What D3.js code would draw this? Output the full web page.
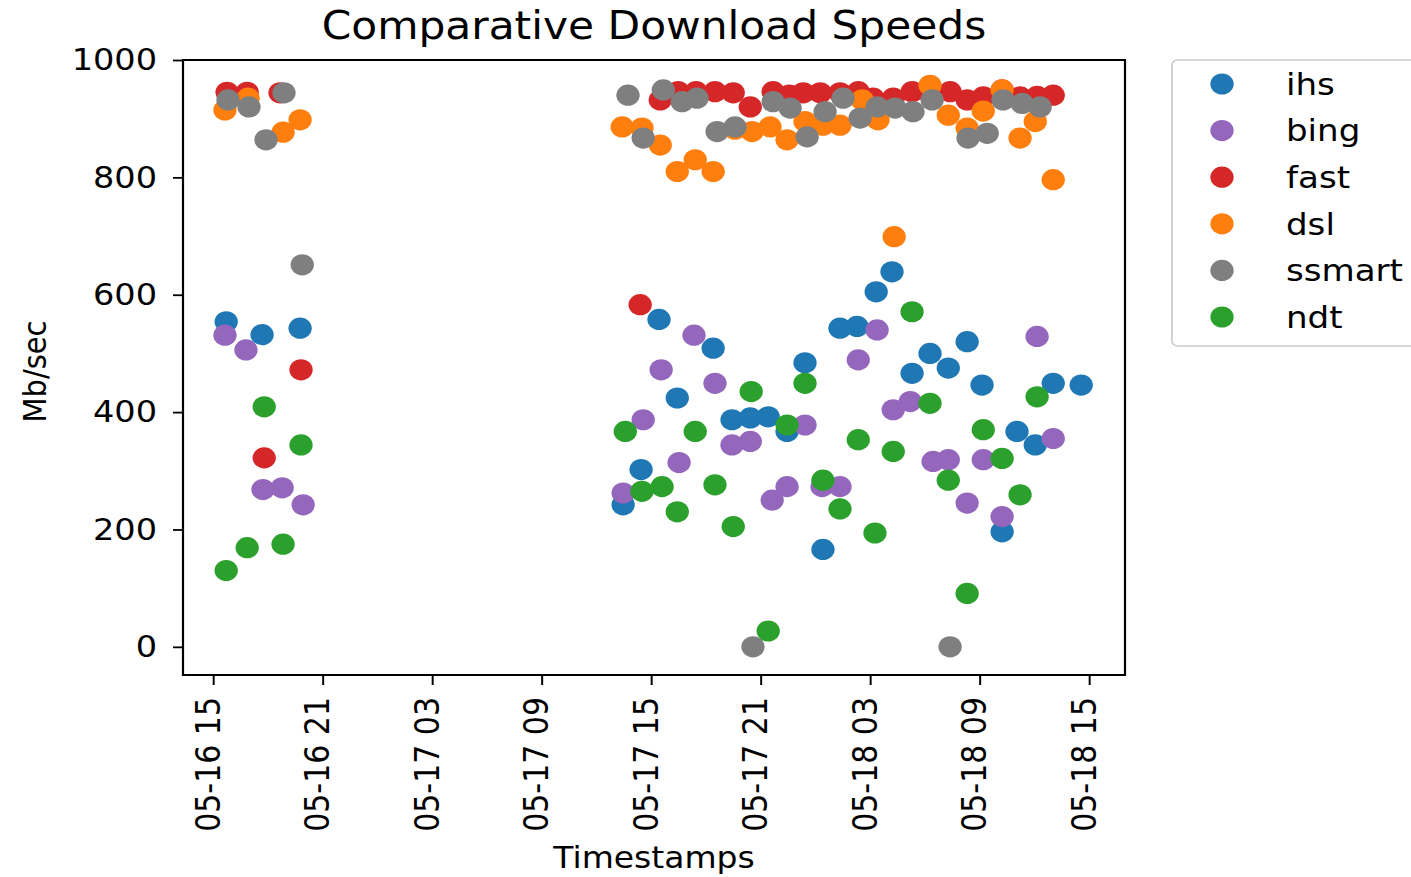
<!DOCTYPE html>
<html>
<head>
<meta charset="utf-8">
<script src="https://cdnjs.cloudflare.com/ajax/libs/d3/7.8.5/d3.min.js"></script>
<style>
  body { margin: 0; background: #fff; }
  svg { display: block; }
  text { font-family: "DejaVu Sans", sans-serif; fill: #000; }
</style>
</head>
<body>
<svg id="chart"></svg>
<script>
// series names + matplotlib tab10 colours
const seriesNames = ["ihs", "bing", "fast", "dsl", "ssmart", "ndt"];
const seriesColors = ["#1f77b4", "#9467bd", "#d62728", "#ff7f0e", "#7f7f7f", "#2ca02c"];

const xTickLabels = ["05-16 15", "05-16 21", "05-17 03", "05-17 09", "05-17 15",
                     "05-17 21", "05-18 03", "05-18 09", "05-18 15"];
const yTickValues = [0, 200, 400, 600, 800, 1000];

// [timestamp, Mb/sec]
const ihs = [
  ["05-16 15:43", 554], ["05-16 17:41", 532], ["05-16 19:46", 543],
  ["05-17 13:28", 242], ["05-17 14:27", 302], ["05-17 15:26", 558], ["05-17 16:26", 424],
  ["05-17 18:24", 509], ["05-17 19:26", 387], ["05-17 20:26", 390], ["05-17 21:25", 392],
  ["05-17 22:27", 367], ["05-17 23:26", 484], ["05-18 00:25", 166], ["05-18 01:21", 543],
  ["05-18 02:17", 546], ["05-18 03:20", 605], ["05-18 04:12", 639], ["05-18 05:18", 466],
  ["05-18 06:17", 500], ["05-18 07:17", 475], ["05-18 08:19", 520], ["05-18 09:08", 446],
  ["05-18 10:14", 196], ["05-18 11:03", 367], ["05-18 12:03", 344], ["05-18 13:02", 449],
  ["05-18 14:34", 446]
];
const bing = [
  ["05-16 15:39", 531], ["05-16 16:48", 506], ["05-16 17:44", 268], ["05-16 18:47", 271],
  ["05-16 19:56", 242],
  ["05-17 13:28", 262], ["05-17 14:34", 387], ["05-17 15:33", 472], ["05-17 16:32", 314],
  ["05-17 17:21", 531], ["05-17 18:30", 449], ["05-17 19:26", 344], ["05-17 20:26", 350],
  ["05-17 21:38", 250], ["05-17 22:27", 273], ["05-17 23:26", 378], ["05-18 00:22", 273],
  ["05-18 01:21", 273], ["05-18 02:21", 489], ["05-18 03:23", 540], ["05-18 04:16", 404],
  ["05-18 05:12", 418], ["05-18 06:27", 316], ["05-18 07:17", 319], ["05-18 08:19", 245],
  ["05-18 09:12", 319], ["05-18 10:14", 222], ["05-18 12:09", 529], ["05-18 13:02", 355]
];
const fast = [
  ["05-16 15:46", 945], ["05-16 16:52", 945], ["05-16 17:48", 322], ["05-16 18:40", 944],
  ["05-16 19:49", 472],
  ["05-17 14:24", 583], ["05-17 15:30", 932], ["05-17 16:29", 946], ["05-17 17:28", 946],
  ["05-17 18:30", 946], ["05-17 19:30", 944], ["05-17 20:26", 920], ["05-17 21:41", 946],
  ["05-17 22:34", 940], ["05-17 23:20", 944], ["05-18 00:16", 944], ["05-18 01:21", 944],
  ["05-18 02:21", 946], ["05-18 03:10", 935], ["05-18 04:16", 935], ["05-18 05:18", 946],
  ["05-18 06:21", 940], ["05-18 07:23", 946], ["05-18 08:19", 932], ["05-18 09:12", 937],
  ["05-18 10:14", 949], ["05-18 11:13", 937], ["05-18 12:09", 938], ["05-18 13:02", 940]
];
const dsl = [
  ["05-16 15:39", 915], ["05-16 16:55", 935], ["05-16 18:50", 877], ["05-16 19:46", 898],
  ["05-17 13:25", 886], ["05-17 14:30", 884], ["05-17 15:30", 855], ["05-17 16:26", 810],
  ["05-17 17:25", 830], ["05-17 18:24", 810], ["05-17 19:36", 882], ["05-17 20:32", 878],
  ["05-17 21:31", 886], ["05-17 22:27", 864], ["05-17 23:26", 895], ["05-18 00:25", 889],
  ["05-18 01:21", 889], ["05-18 02:34", 932], ["05-18 03:26", 898], ["05-18 04:19", 699],
  ["05-18 06:17", 957], ["05-18 07:17", 906], ["05-18 08:19", 884], ["05-18 09:12", 913],
  ["05-18 10:14", 949], ["05-18 11:13", 867], ["05-18 12:03", 895], ["05-18 13:02", 796]
];
const ssmart = [
  ["05-16 15:49", 932], ["05-16 16:58", 920], ["05-16 17:54", 864], ["05-16 18:53", 944],
  ["05-16 19:53", 651],
  ["05-17 13:44", 940], ["05-17 14:34", 867], ["05-17 15:40", 949], ["05-17 16:42", 929],
  ["05-17 17:31", 935], ["05-17 18:37", 878], ["05-17 19:36", 886], ["05-17 20:35", 0],
  ["05-17 21:41", 929], ["05-17 22:37", 918], ["05-17 23:33", 869], ["05-18 00:32", 912],
  ["05-18 01:31", 935], ["05-18 02:27", 901], ["05-18 03:23", 920], ["05-18 04:22", 918],
  ["05-18 05:21", 912], ["05-18 06:24", 932], ["05-18 07:23", 0], ["05-18 08:22", 867],
  ["05-18 09:25", 875], ["05-18 10:17", 932], ["05-18 11:20", 926], ["05-18 12:19", 920]
];
const ndt = [
  ["05-16 15:43", 130], ["05-16 16:52", 169], ["05-16 17:48", 409], ["05-16 18:50", 175],
  ["05-16 19:49", 344],
  ["05-17 13:35", 367], ["05-17 14:30", 265], ["05-17 15:36", 273], ["05-17 16:26", 230],
  ["05-17 17:25", 367], ["05-17 18:30", 276], ["05-17 19:30", 205], ["05-17 20:29", 435],
  ["05-17 21:25", 27], ["05-17 22:27", 378], ["05-17 23:26", 449], ["05-18 00:25", 284],
  ["05-18 01:21", 235], ["05-18 02:21", 353], ["05-18 03:16", 194], ["05-18 04:16", 333],
  ["05-18 05:18", 571], ["05-18 06:17", 415], ["05-18 07:17", 284], ["05-18 08:19", 91],
  ["05-18 09:12", 370], ["05-18 10:14", 321], ["05-18 11:13", 259], ["05-18 12:09", 426]
];
const seriesData = [ihs, bing, fast, dsl, ssmart, ndt];

// the picture is stretched sideways a bit, so draw in a narrower
// box and let the viewBox widen it
const W = 1411, H = 877, sx = 1.1;
const VW = W / sx;
const margin = {top: 60, right: VW - 1125 / sx, bottom: H - 675, left: 183 / sx};

const svg = d3.select("#chart")
    .attr("width", W)
    .attr("height", H)
    .attr("viewBox", `0 0 ${VW} ${H}`)
    .attr("preserveAspectRatio", "none");

const parseTime = d3.timeParse("%Y-%m-%d %H:%M");
const parseTick = d3.timeParse("%Y-%m-%d %H");
const toDate = s => parseTime("2018-" + s);

const x = d3.scaleTime()
    .domain([toDate("05-16 13:21"), toDate("05-18 16:58")])
    .range([margin.left, VW - margin.right]);
const y = d3.scaleLinear()
    .domain([-48, 1000])
    .range([H - margin.bottom, margin.top]);

const tickLen = 10;

// x axis
const xAxis = svg.append("g")
    .attr("transform", `translate(0,${H - margin.bottom})`)
    .call(d3.axisBottom(x)
      .tickValues(xTickLabels.map(s => parseTick("2018-" + s)))
      .tickFormat(d3.timeFormat("%m-%d %H"))
      .tickSize(tickLen)
      .tickSizeOuter(0));
xAxis.select(".domain").remove();
xAxis.selectAll(".tick line").attr("stroke", "#000").attr("stroke-width", 1.8);
xAxis.selectAll(".tick text")
    .attr("transform", "rotate(-90)")
    .attr("text-anchor", "end")
    .attr("x", -(tickLen + 12))
    .attr("y", -5)
    .attr("dy", "0.35em")
    .style("font-size", "30px");

// y axis
const yAxis = svg.append("g")
    .attr("transform", `translate(${margin.left},0)`)
    .call(d3.axisLeft(y)
      .tickValues(yTickValues)
      .tickFormat(d3.format("d"))
      .tickSize(tickLen / sx)
      .tickPadding(16 / sx)
      .tickSizeOuter(0));
yAxis.select(".domain").remove();
yAxis.selectAll(".tick line").attr("stroke", "#000").attr("stroke-width", 1.8);
yAxis.selectAll(".tick text").style("font-size", "30.5px");

// points, one layer per series in plotting order
seriesData.forEach((rows, i) => {
  svg.append("g")
    .selectAll("circle")
    .data(rows)
    .join("circle")
      .attr("cx", d => x(toDate(d[0])))
      .attr("cy", d => y(d[1]))
      .attr("r", 10.6)
      .attr("fill", seriesColors[i]);
});

// frame
svg.append("rect")
    .attr("x", margin.left)
    .attr("y", margin.top)
    .attr("width", VW - margin.left - margin.right)
    .attr("height", H - margin.top - margin.bottom)
    .attr("fill", "none")
    .attr("stroke", "#000")
    .attr("stroke-width", 2);

// title and axis labels
svg.append("text")
    .attr("x", 654 / sx)
    .attr("y", 39)
    .attr("text-anchor", "middle")
    .style("font-size", "38.5px")
    .text("Comparative Download Speeds");

svg.append("text")
    .attr("x", 654 / sx)
    .attr("y", 868)
    .attr("text-anchor", "middle")
    .style("font-size", "30px")
    .text("Timestamps");

svg.append("text")
    .attr("transform", `translate(${35 / sx},${(margin.top + H - margin.bottom) / 2 + 4}) rotate(-90)`)
    .attr("text-anchor", "middle")
    .attr("dy", "0.35em")
    .style("font-size", "29px")
    .text("Mb/sec");

// legend
const legend = svg.append("g");
legend.append("rect")
    .attr("x", 1172 / sx)
    .attr("y", 60)
    .attr("width", 300)
    .attr("height", 286)
    .attr("rx", 5)
    .attr("fill", "#fff")
    .attr("stroke", "#cccccc")
    .attr("stroke-width", 1.6);

const entries = legend.selectAll("g.entry")
    .data(seriesNames)
    .join("g")
      .attr("class", "entry")
      .attr("transform", (d, i) => `translate(0,${84 + i * 46.6})`);
entries.append("circle")
    .attr("cx", 1222 / sx)
    .attr("r", 10.6)
    .attr("fill", (d, i) => seriesColors[i]);
entries.append("text")
    .attr("x", 1286 / sx)
    .attr("dy", "0.35em")
    .style("font-size", "31px")
    .text(d => d);
</script>
</body>
</html>
